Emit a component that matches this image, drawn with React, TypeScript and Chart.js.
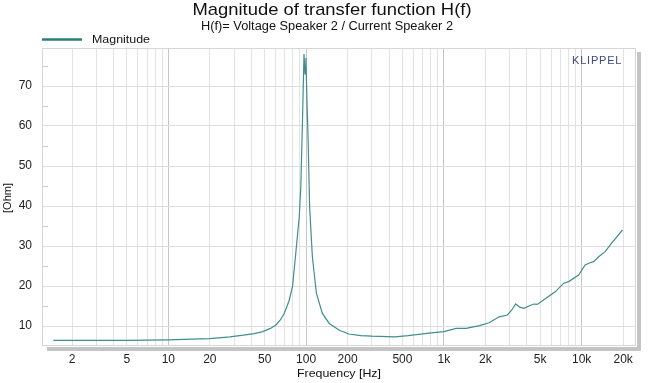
import React, { useEffect, useRef } from "react";
import { Chart, registerables } from "chart.js";

Chart.register(...registerables);

const TITLE = "Magnitude of transfer function H(f)";
const SUBTITLE = "H(f)= Voltage Speaker 2 / Current Speaker 2";
const SERIES_NAME = "Magnitude";
const X_TITLE = "Frequency [Hz]";
const Y_TITLE = "[Ohm]";
const BRAND = "KLIPPEL";

const freqHz = [
  1.46, 2, 3, 5, 7, 10, 15, 20, 28, 35, 42, 48.4, 55, 60.4, 65, 69.4, 75, 79.6, 84, 89, 91.5, 94,
  96.5, 98.2, 99.6, 101.5, 103.4, 106, 111, 118.7, 131, 146.6, 173, 204, 250, 300, 440, 550, 780,
  1000, 1230, 1450, 1810, 2130, 2520, 2890, 3110, 3320, 3550, 3810, 4140, 4500, 4760, 5470, 6460,
  7410, 8060, 9500, 10600, 11500, 12200, 13300, 14800, 16500, 19800,
];
const magnitudeOhm = [
  6.4, 6.4, 6.4, 6.4, 6.45, 6.55, 6.7, 6.85, 7.3, 7.7, 8.1, 8.6, 9.4, 10.25, 11.5, 13.2, 16.2,
  19.8, 28, 37, 44.8, 60.7, 78, 73, 77, 66, 56.5, 39.8, 27.3, 18.2, 13.2, 10.7, 9, 8.0, 7.6, 7.45,
  7.3, 7.6, 8.2, 8.6, 9.4, 9.4, 10.1, 10.8, 12.3, 12.75, 14, 15.5, 14.7, 14.4, 15, 15.5, 15.4, 16.9,
  18.6, 20.7, 21.1, 22.75, 25.25, 25.8, 26.1, 27.3, 28.6, 30.7, 34,
];
const xTickLabels: Record<number, string> = {
  2: "2", 5: "5", 10: "10", 20: "20", 50: "50", 100: "100", 200: "200", 500: "500",
  1000: "1k", 2000: "2k", 5000: "5k", 10000: "10k", 20000: "20k",
};
const yMajorTicks = [10, 20, 30, 40, 50, 60, 70];
const yMinorTicks = [15, 25, 35, 45, 55, 65, 75];

const X_MIN = 1.21;
const X_MAX = 24800;
const Y_MIN = 5;
const Y_MAX = 79.5;

const FONT = "'Liberation Sans', Arial, sans-serif";
const LINE_COLOR = "#3f8f8a";

function stretchText(ctx: CanvasRenderingContext2D, text: string, cx: number, baseline: number, targetW: number) {
  const w = ctx.measureText(text).width;
  const sx = targetW / w;
  ctx.save();
  ctx.translate(cx, baseline);
  ctx.scale(sx, 1);
  ctx.textAlign = "center";
  ctx.textBaseline = "alphabetic";
  ctx.fillText(text, 0, 0);
  ctx.restore();
}

const decorPlugin = {
  id: "decor",
  beforeDraw(chart: any) {
    const { ctx, chartArea } = chart;
    ctx.save();
    ctx.fillStyle = "#ffffff";
    ctx.fillRect(0, 0, chart.width, chart.height);
    ctx.fillStyle = "#c4c4c4";
    ctx.fillRect(chartArea.right + 1, chartArea.top + 4, 4, chartArea.bottom - chartArea.top);
    ctx.fillRect(chartArea.left + 5, chartArea.bottom + 1, chartArea.right - chartArea.left, 4);
    ctx.restore();
  },
  afterDraw(chart: any) {
    const { ctx, chartArea, scales } = chart;
    ctx.save();
    ctx.strokeStyle = "#d6d6d6";
    ctx.lineWidth = 1;
    ctx.strokeRect(chartArea.left + 0.5, chartArea.top + 0.5, chartArea.right - chartArea.left - 1, chartArea.bottom - chartArea.top - 1);
    ctx.strokeStyle = "#cfcfcf";
    for (const v of yMinorTicks) {
      const y = Math.round(scales.y.getPixelForValue(v)) + 0.5;
      ctx.beginPath();
      ctx.moveTo(chartArea.left, y);
      ctx.lineTo(chartArea.left + 6, y);
      ctx.stroke();
    }
    ctx.fillStyle = "#111111";
    ctx.font = `17px ${FONT}`;
    stretchText(ctx, TITLE, 332, 15, 279);
    ctx.font = `12px ${FONT}`;
    stretchText(ctx, SUBTITLE, 327, 29.5, 252);
    // legend
    ctx.strokeStyle = "#2a7f78";
    ctx.lineWidth = 2.5;
    ctx.beginPath();
    ctx.moveTo(42, 39.5);
    ctx.lineTo(82, 39.5);
    ctx.stroke();
    ctx.font = `11.5px ${FONT}`;
    ctx.fillStyle = "#111111";
    stretchText(ctx, SERIES_NAME, 121, 43, 58);
    // brand
    ctx.fillStyle = "#3b4a7c";
    ctx.font = `11px ${FONT}`;
    ctx.textAlign = "left";
    ctx.textBaseline = "middle";
    (ctx as any).letterSpacing = "0.8px";
    ctx.fillText(BRAND, 572, 61);
    (ctx as any).letterSpacing = "0px";
    // axis titles
    ctx.fillStyle = "#111111";
    ctx.font = `11.5px ${FONT}`;
    stretchText(ctx, X_TITLE, 339, 377, 84);
    ctx.save();
    ctx.translate(8, 198);
    ctx.rotate(-Math.PI / 2);
    ctx.font = `11px ${FONT}`;
    ctx.textAlign = "center";
    ctx.textBaseline = "middle";
    ctx.fillText(Y_TITLE, 0, 0);
    ctx.restore();
    ctx.restore();
  },
};

export default function App() {
  const ref = useRef<HTMLCanvasElement | null>(null);
  useEffect(() => {
    if (!ref.current) return;
    const points = freqHz.map((f, i) => ({ x: f, y: magnitudeOhm[i] }));
    const chart = new Chart(ref.current, {
      type: "line",
      data: {
        datasets: [
          {
            label: SERIES_NAME,
            data: points,
            borderColor: LINE_COLOR,
            borderWidth: 1.2,
            pointRadius: 0,
            tension: 0,
            fill: false,
          },
        ],
      },
      options: {
        animation: false,
        responsive: false,
        maintainAspectRatio: false,
        layout: { padding: { top: 48, right: 27, left: 0, bottom: 0 } },
        plugins: {
          legend: { display: false },
          title: { display: false },
          tooltip: { enabled: false },
        },
        scales: {
          x: {
            type: "logarithmic",
            min: X_MIN,
            max: X_MAX,
            afterBuildTicks: (scale: any) => {
              const t: { value: number }[] = [];
              for (let d = 1; d <= 10000; d *= 10) {
                for (let m = 1; m <= 9; m++) {
                  const v = m * d;
                  if (v >= X_MIN && v <= X_MAX) t.push({ value: v });
                }
              }
              scale.ticks = t;
            },
            afterFit: (scale: any) => {
              scale.height = 37;
            },
            ticks: {
              autoSkip: false,
              maxRotation: 0,
              minRotation: 0,
              padding: 6,
              color: "#222222",
              font: { family: FONT, size: 12 },
              callback: (value: any) => xTickLabels[Number(value)] ?? "",
            },
            grid: {
              drawTicks: false,
              color: (c: any) => {
                const v = c.tick ? c.tick.value : 0;
                const lg = Math.log10(v);
                return Math.abs(lg - Math.round(lg)) < 1e-6 ? "#c6c6c6" : "#e2e2e2";
              },
            },
            border: { display: false },
          },
          y: {
            type: "linear",
            min: Y_MIN,
            max: Y_MAX,
            afterBuildTicks: (scale: any) => {
              scale.ticks = yMajorTicks.map((v) => ({ value: v }));
            },
            afterFit: (scale: any) => {
              scale.width = 42;
            },
            ticks: {
              padding: 10,
              color: "#222222",
              font: { family: FONT, size: 12 },
              callback: (value: any) => String(value),
            },
            grid: { drawTicks: false, color: "#dedede" },
            border: { display: false },
          },
        },
      },
      plugins: [decorPlugin],
    });
    return () => chart.destroy();
  }, []);
  return (
    <div style={{ position: "fixed", left: 0, top: 0, width: 663, height: 383, background: "#fff" }}>
      <canvas ref={ref} width={663} height={383} style={{ width: 663, height: 383 }} />
    </div>
  );
}
